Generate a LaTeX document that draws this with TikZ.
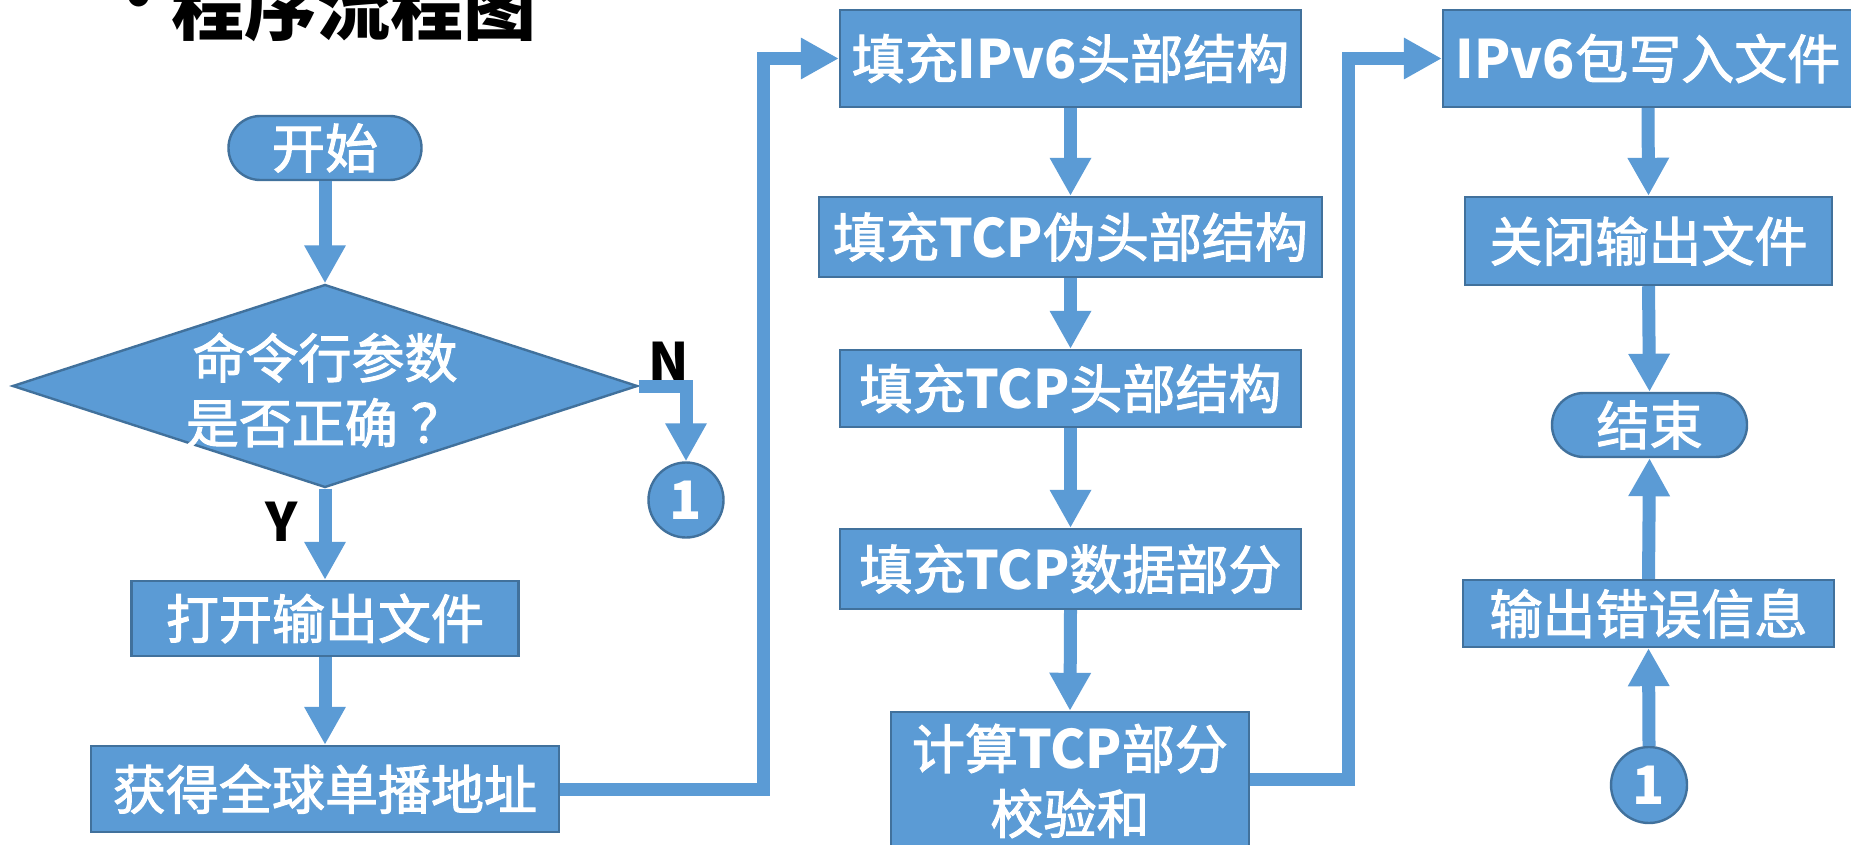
\documentclass[tikz,border=0pt]{standalone}
\usepackage{fontspec}
\newfontfamily\cjk{Noto Sans CJK SC}
\newfontfamily\cjkm{Noto Sans CJK SC}[FakeBold=2]
\newcommand\latb[1]{{\cjk\bfseries #1}}
\usetikzlibrary{arrows.meta,shapes.geometric}
\definecolor{fillc}{HTML}{5B9BD5}
\definecolor{bordc}{HTML}{41719C}
\definecolor{arrc}{HTML}{5B9BD5}
\tikzset{
  bx/.style={draw=bordc, fill=fillc, line width=1.2pt, inner sep=0pt, text=white,
    font=\cjkm\fontsize{26.5pt}{32.5pt}\selectfont, align=center},
  term/.style={bx, rounded corners=15.9pt},
  conncirc/.style={bx, circle, font=\cjk\bfseries\fontsize{26.5pt}{32.5pt}\selectfont},
  conn/.style={draw=arrc, line width=6.5pt, -{Triangle[width=19.5pt,length=19pt]}},
  lbl/.style={inner sep=0pt, text=black, font=\cjk\bfseries\fontsize{26.5pt}{32.5pt}\selectfont},
}
\begin{document}
\begin{tikzpicture}[x=0.5pt,y=-0.5pt]
\useasboundingbox (0,0) rectangle (1851,845);
\clip (0,0) rectangle (1851,845);
\fill[white] (0,0) rectangle (1851,845);
% title
\node[lbl, font=\cjk\bfseries\fontsize{36.5pt}{40pt}\selectfont] (bul) at (139,6) {•};
\node[lbl, font=\cjk\bfseries\fontsize{36.5pt}{40pt}\selectfont, anchor=base west] (title) at (171,35) {程序流程图};
% left column
\node[term, minimum width=96.5pt, minimum height=32pt] (start) at (325,148) {开始};
\node[bx, diamond, minimum width=312.5pt, minimum height=101.5pt,
  label={[bx, draw=none, fill=none, yshift=-2pt]center:命令行参数\\是否正确\hspace{0.25em}？}] (dec) at (325,386) {};
\node[bx, minimum width=193.5pt, minimum height=37.5pt] (open) at (325,618.5) {打开输出文件};
\node[bx, minimum width=234pt, minimum height=43pt] (addr) at (325,789) {获得全球单播地址};
\node[conncirc, minimum size=37.5pt] (c1) at (686,500) {1};
\node[lbl] (ylab) at (282,522) {Y};
\node[lbl] (nlab) at (669,362) {N};
% middle column
\node[bx, minimum width=230.5pt, minimum height=48.5pt] (ipv6) at (1070.5,58.5) {填充\latb{IPv6}头部结构};
\node[bx, minimum width=251.5pt, minimum height=40pt] (pseudo) at (1070.5,237) {填充\latb{TCP}伪头部结构};
\node[bx, minimum width=230.5pt, minimum height=38.5pt] (tcph) at (1070.5,388.5) {填充\latb{TCP}头部结构};
\node[bx, minimum width=230.5pt, minimum height=40pt] (data) at (1070.5,569) {填充\latb{TCP}数据部分};
\node[bx, minimum width=179pt, minimum height=69pt] (csum) at (1070,781) {计算\latb{TCP}部分\\校验和};
% right column
\node[bx, minimum width=205pt, minimum height=48.5pt] (write) at (1648,58.5) {\latb{IPv6}包写入文件};
\node[bx, minimum width=183.5pt, minimum height=44pt] (close) at (1648.5,241) {关闭输出文件};
\node[term, minimum width=97.5pt, minimum height=32pt] (end) at (1649.5,425) {结束};
\node[bx, minimum width=185.5pt, minimum height=33.5pt] (err) at (1648.5,613.5) {输出错误信息};
\node[conncirc, minimum size=38pt] (c2) at (1649,785) {1};
% connectors
\draw[conn] (start) -- (dec);
\draw[conn] (dec.south) -- (open.north);
\draw[conn] (dec.east) -- (c1.north |- dec.east) -- (c1.north);
\draw[conn] (open) -- (addr);
\draw[conn] (addr.east) -- ++(203,0) |- (ipv6.west);
\draw[conn] (ipv6.south) -- (pseudo.north);
\draw[conn] (pseudo.south) -- (tcph.north);
\draw[conn] (tcph.south) -- (data.north);
\draw[conn] (data.south) -- (csum.north);
\draw[conn] ([yshift=1pt]csum.east) -- ++(98,0) |- (write.west);
\draw[conn] (write.south) -- (close.north);
\draw[conn] (close.south) -- (end.north);
\draw[conn] (c2.north) -- (err.south);
\draw[conn] (err.north) -- (end.south);
\end{tikzpicture}
\end{document}
